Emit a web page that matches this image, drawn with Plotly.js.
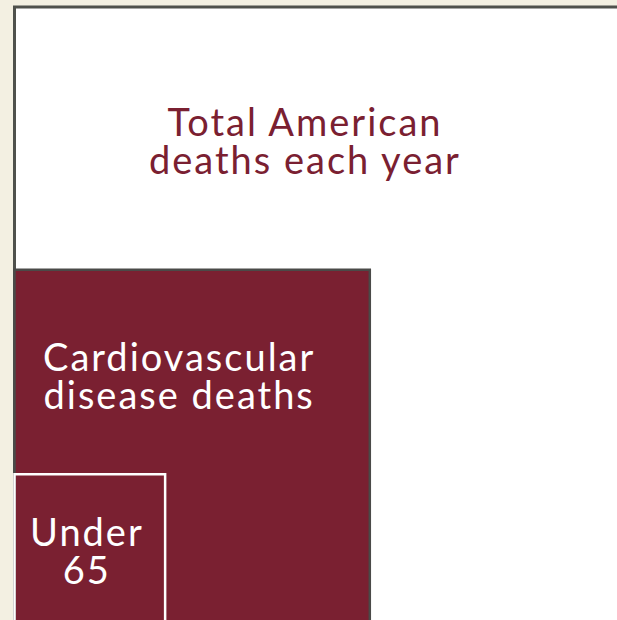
<!DOCTYPE html>
<html>
<head>
<meta charset="utf-8">
<script src="https://cdn.plot.ly/plotly-3.0.1.min.js"></script>
<style>
html,body{margin:0;padding:0;background:#f3f0e2;}
.annotation-text{letter-spacing:2px;}
</style>
</head>
<body>
<div id="chart" style="width:617px;height:620px;"></div>
<script>
// Data: annual US deaths (approx., read from square areas)
const categories = ["Total American deaths each year", "Cardiovascular disease deaths", "Under 65"];
const deaths = [2626000, 868000, 156000];
const labels = ["Total American<br>deaths each year", "Cardiovascular<br>disease deaths", "Under<br>65"];

const W = 617, H = 620;
const sides = deaths.map(v => Math.sqrt(v));
const k = sides[0] / 618;   // data units per pixel
const ox = 14.5, oy = 625;  // pixel position of the common bottom-left corner

const fills = ["#ffffff", "#7a2031", "rgba(0,0,0,0)"];
const lines = ["#4f514c", "#4a4a48", "#ffffff"];
const widths = [3, 2.5, 2.5];

const shapes = sides.map((s, i) => ({
  type: "rect", xref: "x", yref: "y", x0: 0, y0: 0, x1: s, y1: s,
  fillcolor: fills[i], line: {color: lines[i], width: widths[i]}, layer: "above"
}));

// label placement in pixels (centre x, top y)
const labelPos = [[305, 96], [179, 331], [87, 506]];
const labelColors = ["#7a2031", "#ffffff", "#ffffff"];
const annotations = labels.map((t, i) => ({
  text: t, showarrow: false, xref: "paper", yref: "paper", align: "center",
  x: labelPos[i][0] / W, y: 1 - labelPos[i][1] / H, xanchor: "center", yanchor: "top",
  font: {family: "Lato, sans-serif", size: 38, color: labelColors[i]}
}));

const trace = {x: sides, y: sides, mode: "markers", marker: {opacity: 0}, hoverinfo: "skip", text: categories};

const layout = {
  width: W, height: H,
  margin: {l: 0, r: 0, t: 0, b: 0},
  paper_bgcolor: "#f3f0e2", plot_bgcolor: "rgba(0,0,0,0)",
  showlegend: false,
  xaxis: {range: [-ox * k, (W - ox) * k], visible: false, fixedrange: true},
  yaxis: {range: [(oy - H) * k, oy * k], visible: false, fixedrange: true},
  shapes: shapes, annotations: annotations
};
Plotly.newPlot("chart", [trace], layout, {staticPlot: true, displayModeBar: false}).then(gd => {
  // tighten line spacing to match the reference (~1.0em instead of 1.3em)
  gd.querySelectorAll(".annotation-text tspan.line").forEach(ts => {
    const dy = ts.getAttribute("dy");
    if (dy && dy.endsWith("em")) {
      const v = parseFloat(dy);
      ts.setAttribute("dy", (v / 1.3 * 1.0) + "em");
    }
  });
});
</script>
</body>
</html>
